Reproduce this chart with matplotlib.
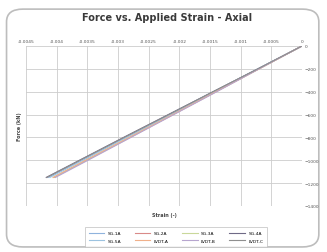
import matplotlib
matplotlib.use('Agg')
import matplotlib.pyplot as plt
from matplotlib.patches import FancyBboxPatch
import numpy as np

# data (strain [-], force [kN])
force = [0, -200, -400, -600, -800, -1000, -1150]
labels = ["SG-1A", "SG-2A", "SG-3A", "SG-4A", "SG-5A", "LVDT-A", "LVDT-B", "LVDT-C"]
strain_sg1 = [0, -0.00072, -0.00144, -0.00216, -0.00288, -0.00360, -0.00414]
strain_sg2 = [0, -0.00070, -0.00140, -0.00210, -0.00280, -0.00351, -0.00404]
strain_sg3 = [0, -0.00070, -0.00141, -0.00211, -0.00282, -0.00352, -0.00405]
strain_sg4 = [0, -0.00072, -0.00145, -0.00218, -0.00291, -0.00363, -0.00417]
strain_sg5 = [0, -0.00071, -0.00143, -0.00214, -0.00286, -0.00357, -0.00411]
strain_lvdt_a = [0, -0.00070, -0.00141, -0.00211, -0.00282, -0.00353, -0.00406]
strain_lvdt_b = [0, -0.00070, -0.00139, -0.00209, -0.00279, -0.00349, -0.00402]
strain_lvdt_c = [0, -0.00072, -0.00145, -0.00217, -0.00290, -0.00362, -0.00416]
strains = [strain_sg1, strain_sg2, strain_sg3, strain_sg4,
           strain_sg5, strain_lvdt_a, strain_lvdt_b, strain_lvdt_c]
colors = ["#8fb3dd", "#d98a88", "#c9d89a", "#6f6a86",
          "#9cc3e0", "#f0b08a", "#b7a6cf", "#8f8f8f"]
xticks = [-0.0045, -0.004, -0.0035, -0.003, -0.0025, -0.002, -0.0015, -0.001, -0.0005, 0]
yticks = [0, -200, -400, -600, -800, -1000, -1200, -1400]

fig = plt.figure(figsize=(3.27, 2.53), dpi=100)

# rounded chart frame
frame = FancyBboxPatch((0.02, 0.02), 0.955, 0.94, boxstyle="round,pad=0,rounding_size=0.05",
                       transform=fig.transFigure, facecolor="white",
                       edgecolor="#bdbdbd", linewidth=1.2, zorder=-10)
fig.patches.append(frame)

ax = fig.add_axes([26/327, 1-207/253, 276/327, 160/253])
ax.set_facecolor("none")
lines = []
for s, c, l in zip(strains, colors, labels):
    lines += ax.plot(s, force, color=c, lw=0.8, label=l)

ax.set_xlim(-0.0045, 0)
ax.set_ylim(-1400, 0)
ax.set_xticks(xticks)
ax.set_xticklabels([f"{v:g}" for v in xticks])
ax.set_yticks(yticks)
ax.xaxis.tick_top()
ax.yaxis.tick_right()
ax.tick_params(labelsize=3.2, colors="#555555", length=0, pad=2)
ax.grid(True, color="#cccccc", lw=0.6)
for sp in ax.spines.values():
    sp.set_visible(False)

ax.set_xlabel("Strain (-)", fontsize=3.5, fontweight="bold", color="#444444", labelpad=4)
ax.set_ylabel("Force (kN)", fontsize=3.5, fontweight="bold", color="#444444", labelpad=3)
ax.yaxis.set_label_position("left")

fig.text(0.51, 1-18/253, "Force vs. Applied Strain - Axial", ha="center", va="center",
         fontsize=7, fontweight="bold", color="#3a3a3a")

# legend filled row by row like Excel
order = [0, 4, 1, 5, 2, 6, 3, 7]
leg = fig.legend([lines[i] for i in order], [labels[i] for i in order],
                 loc="center", bbox_to_anchor=(176/327, 1-238/253), ncol=4,
                 fontsize=3.2, frameon=True, handlelength=3.5, columnspacing=3.0,
                 borderpad=0.6, labelspacing=0.8)
leg.get_frame().set_edgecolor("#bdbdbd")
leg.get_frame().set_linewidth(0.6)
leg.get_frame().set_boxstyle("square")

plt.savefig("out.png", dpi=100)
